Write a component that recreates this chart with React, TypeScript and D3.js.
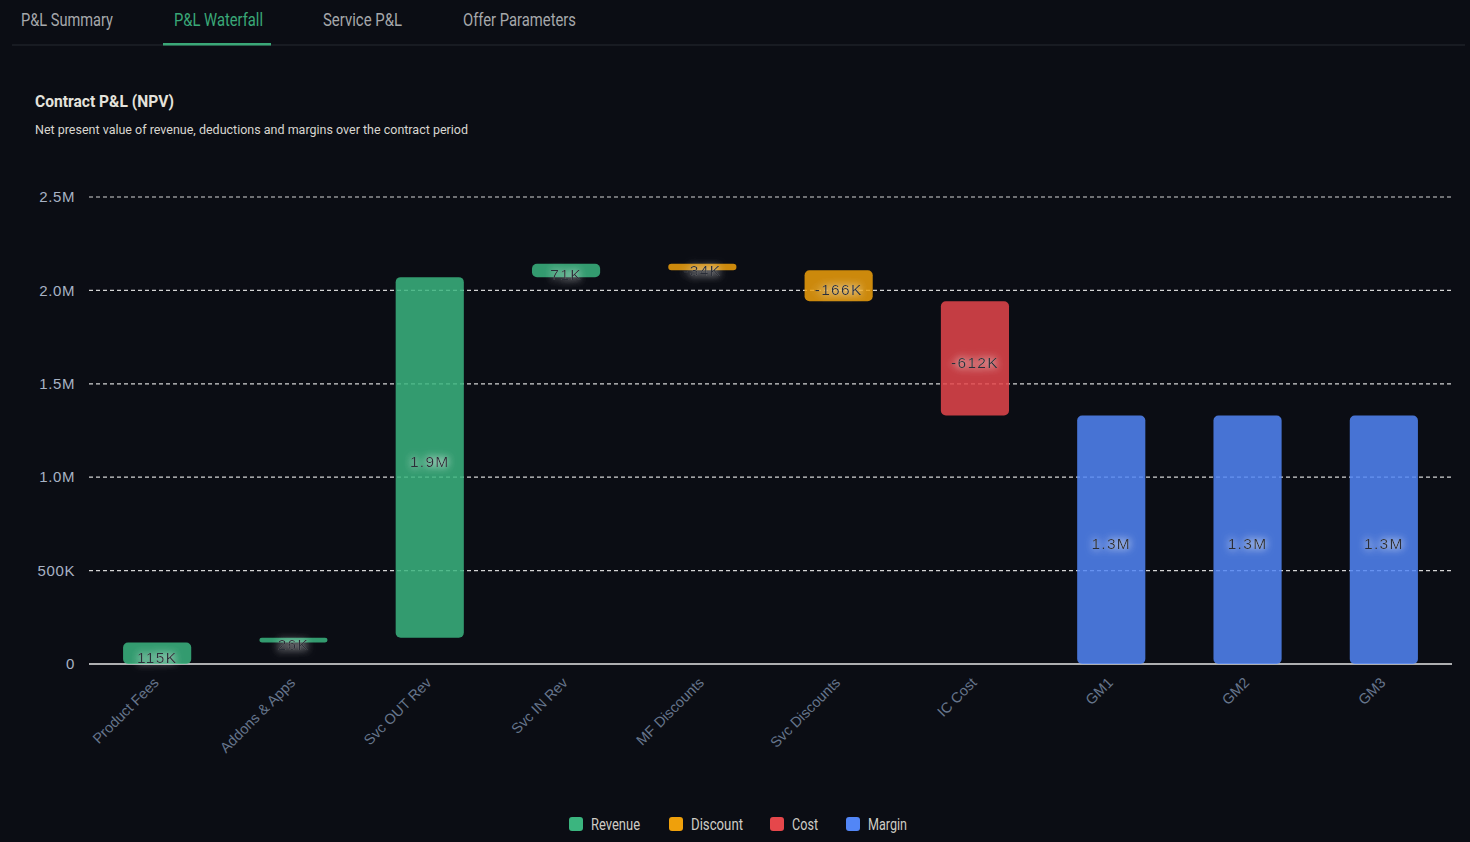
import React from 'react';
import * as d3 from 'd3';

const categories = ['Product Fees', 'Addons & Apps', 'Svc OUT Rev', 'Svc IN Rev', 'MF Discounts', 'Svc Discounts', 'IC Cost', 'GM1', 'GM2', 'GM3'];
const values = [115000, 26000, 1930000, 71000, -34000, -166000, -612000, 1330000, 1330000, 1330000];
const kinds = ['Revenue', 'Revenue', 'Revenue', 'Revenue', 'Discount', 'Discount', 'Cost', 'Margin', 'Margin', 'Margin'];
const yTicks = [0, 500000, 1000000, 1500000, 2000000, 2500000];
const tabs = ['P&L Summary', 'P&L Waterfall', 'Service P&L', 'Offer Parameters'];
const legendItems = ['Revenue', 'Discount', 'Cost', 'Margin'];

const colors: Record<string, string> = {
  Revenue: '#3bb57f',
  Discount: '#efa00b',
  Cost: '#e5474b',
  Margin: '#5286f6',
};

const W = 1470;
const H = 842;
const condensed = "Roboto, 'Liberation Sans', sans-serif";
const sans = "'Liberation Sans', Arial, sans-serif";

const fmtTick = (v: number) => (v === 0 ? '0' : v >= 1e6 ? `${(v / 1e6).toFixed(1)}M` : `${Math.round(v / 1000)}K`);
const fmtVal = (v: number) => (Math.abs(v) >= 1e6 ? `${(v / 1e6).toFixed(1)}M` : `${Math.round(v / 1000)}K`);

const App = () => {
  const x = d3.scaleBand<string>().domain(categories).range([89, 1452]).paddingInner(0.5).paddingOuter(0.25);
  const y = d3.scaleLinear().domain([0, 2500000]).range([664, 197]);

  // running totals for the waterfall; margin bars start from zero
  let running = 0;
  const bars = categories.map((c, i) => {
    const v = values[i];
    let y0, y1;
    if (kinds[i] === 'Margin') {
      y0 = 0;
      y1 = v;
    } else {
      y0 = running;
      y1 = running + v;
      running = y1;
    }
    return { c, v, kind: kinds[i], lo: Math.min(y0, y1), hi: Math.max(y0, y1) };
  });

  const tabX = [21, 174, 323, 463];
  const tabW = [92, 89, 79, 113];
  const legendX = [569, 669, 770, 846];
  const legendW = [49, 52, 26, 39];

  return (
    <svg width={W} height={H} style={{ display: 'block', position: 'absolute', left: 0, top: 0, background: '#0b0d14' }}>
      <defs>
        <filter id="glow" x="-40%" y="-80%" width="180%" height="260%">
          <feGaussianBlur in="SourceAlpha" stdDeviation="4" result="b" />
          <feFlood floodColor="#ffffff" floodOpacity="0.7" />
          <feComposite in2="b" operator="in" result="g" />
          <feMerge>
            <feMergeNode in="g" />
            <feMergeNode in="g" />
            <feMergeNode in="SourceGraphic" />
          </feMerge>
        </filter>
      </defs>
      <rect width={W} height={H} fill="#0b0d14" />

      {/* tabs */}
      <line x1={12} x2={1465} y1={45} y2={45} stroke="#262a31" strokeWidth={1} />
      {tabs.map((t, i) => (
        <text key={t} x={tabX[i]} y={26} fontFamily={condensed} fontSize={18} textLength={tabW[i]} lengthAdjust="spacingAndGlyphs"
          fill={i === 1 ? '#3aa878' : '#a6a8ab'}>{t}</text>
      ))}
      <rect x={163} y={43} width={108} height={2.5} fill="#3aa878" />

      <text x={35} y={107} fontFamily={condensed} fontSize={17} fontWeight="bold" fill="#e4e2dc"
        textLength={139} lengthAdjust="spacingAndGlyphs">Contract P&amp;L (NPV)</text>
      <text x={35} y={134} fontFamily={condensed} fontSize={13.5} fill="#d8d6d0"
        textLength={433} lengthAdjust="spacingAndGlyphs">Net present value of revenue, deductions and margins over the contract period</text>

      {/* grid */}
      {yTicks.map(t => (
        <g key={t}>
          <line x1={89} x2={1452} y1={y(t)} y2={y(t)} stroke={t === 0 ? '#e6e6e6' : '#d4d4d4'}
            strokeWidth={t === 0 ? 1.5 : 1.2} strokeDasharray={t === 0 ? undefined : '4 3'} />
          <text x={75} y={y(t)} dy="0.35em" textAnchor="end" fontFamily={sans} fontSize={15} letterSpacing={0.6}
            fill="#a8b2c4">{fmtTick(t)}</text>
        </g>
      ))}

      {/* bars */}
      {bars.map(b => {
        const bx = x(b.c)!;
        const top = y(b.hi);
        const h = Math.max(y(b.lo) - top, 1);
        return (
          <rect key={b.c} x={bx} y={top} width={x.bandwidth()} height={h} rx={Math.min(5, h / 2)}
            fill={colors[b.kind]} fillOpacity={0.85} />
        );
      })}

      {/* value labels */}
      {bars.map(b => {
        const cx = x(b.c)! + x.bandwidth() / 2;
        const mid = (y(b.lo) + y(b.hi)) / 2 + 4;
        return (
          <text key={b.c} x={cx} y={mid} dy="0.35em" textAnchor="middle" fontFamily={sans} fontSize={15.5}
            letterSpacing={1.3} fill="#2a2e38" filter="url(#glow)">{fmtVal(b.v)}</text>
        );
      })}

      {/* x labels */}
      {categories.map(c => {
        const cx = x(c)! + x.bandwidth() / 2;
        return (
          <text key={c} transform={`translate(${cx - 1},${680}) rotate(-45)`} textAnchor="end" dy="0.35em"
            fontFamily={sans} fontSize={14.5} fill="#66758c">{c}</text>
        );
      })}

      {/* legend */}
      {legendItems.map((l, i) => (
        <g key={l} transform={`translate(${legendX[i]},${817})`}>
          <rect width={14} height={14} rx={3} fill={colors[l]} />
          <text x={22} y={7} dy="0.35em" fontFamily={condensed} fontSize={16} fill="#cfccc5"
            textLength={legendW[i]} lengthAdjust="spacingAndGlyphs">{l}</text>
        </g>
      ))}
    </svg>
  );
};

export default App;
